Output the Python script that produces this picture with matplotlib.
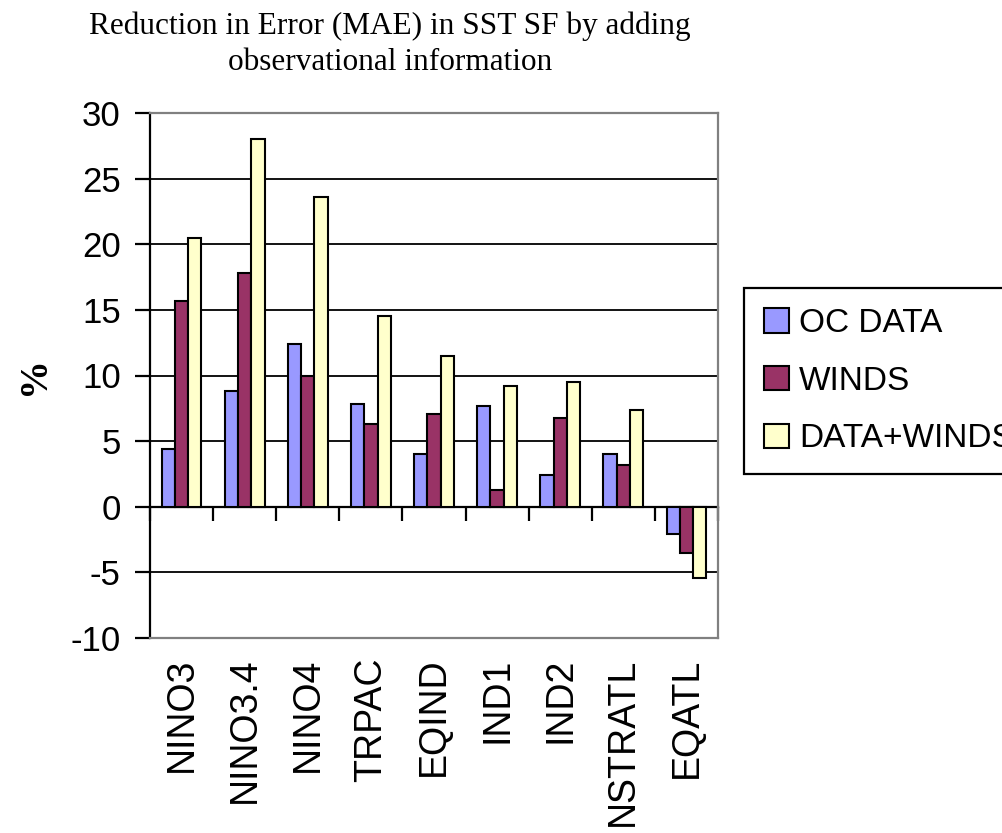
import matplotlib
matplotlib.use("Agg")
import matplotlib.pyplot as plt
import numpy as np

# values (% reduction in MAE)
regions = ["NINO3", "NINO3.4", "NINO4", "TRPAC", "EQIND", "IND1", "IND2", "NSTRATL", "EQATL"]
oc_data = [4.4, 8.8, 12.4, 7.8, 4.0, 7.7, 2.4, 4.0, -2.1]
winds = [15.7, 17.8, 10.0, 6.3, 7.1, 1.3, 6.8, 3.2, -3.5]
data_winds = [20.5, 28.0, 23.6, 14.5, 11.5, 9.2, 9.5, 7.4, -5.4]
series_names = ["OC DATA", "WINDS", "DATA+WINDS"]
colors = ["#9999FF", "#993366", "#FFFFCC"]

plt.rcParams["axes.unicode_minus"] = False
sans = ["Liberation Sans", "DejaVu Sans"]
serif = ["Liberation Serif", "DejaVu Serif"]

fig = plt.figure(figsize=(10.03, 8.33), dpi=100)
ax = fig.add_axes([150/1003, 1-638/833, 568/1003, 525/833])

x = np.arange(len(regions))
w = 0.21
for i, (vals, name, c) in enumerate(zip([oc_data, winds, data_winds], series_names, colors)):
    ax.bar(x + (i-1)*w, vals, width=w, color=c, edgecolor="black", linewidth=1.5,
           label=name, zorder=3)

ax.set_xlim(-0.5, len(regions)-0.5)
ax.set_ylim(-10, 30)
ax.set_yticks(range(-10, 31, 5))
ax.yaxis.grid(True, color="black", linewidth=1.3, zorder=1)
ax.set_axisbelow(True)

for s in ["top", "right", "bottom"]:
    ax.spines[s].set_color("#808080")
    ax.spines[s].set_linewidth(1.6)
ax.spines["left"].set_color("black")
ax.spines["left"].set_linewidth(1.6)

ax.tick_params(axis="y", direction="out", length=11, width=1.6, pad=10, labelsize=25)
for lab in ax.get_yticklabels():
    lab.set_family(sans)

ax.set_xticks(x)
ax.set_xticklabels(regions, rotation=90, fontsize=27, family=sans)
ax.tick_params(axis="x", length=0, pad=14)

# zero line with tick marks between categories
zero = ax.secondary_xaxis(0.25)
zero.set_xticks(np.arange(-0.5, len(regions), 1.0))
zero.set_xticklabels([])
zero.tick_params(direction="out", length=10, width=1.6)
zero.spines["bottom"].set_color("black")
zero.spines["bottom"].set_linewidth(1.6)

fig.text(390/1003, 1-44/833, "Reduction in Error (MAE) in SST SF by adding\nobservational information",
         ha="center", va="center", fontsize=22.5, family=serif, linespacing=1.3)
fig.text(35/1003, 1-376/833, "%", rotation=90, ha="center", va="center",
         fontsize=28, fontweight="bold", family=serif)

leg = fig.legend(loc="upper left", bbox_to_anchor=(744/1003, 1-288/833),
                 prop={"family": sans, "size": 24}, frameon=True, fancybox=False,
                 edgecolor="black", framealpha=1, handlelength=0.75, handleheight=0.75,
                 handletextpad=0.3, labelspacing=0.8, borderpad=0.6, borderaxespad=0)
leg.get_frame().set_linewidth(1.6)

fig.savefig("out.png", dpi=100)
